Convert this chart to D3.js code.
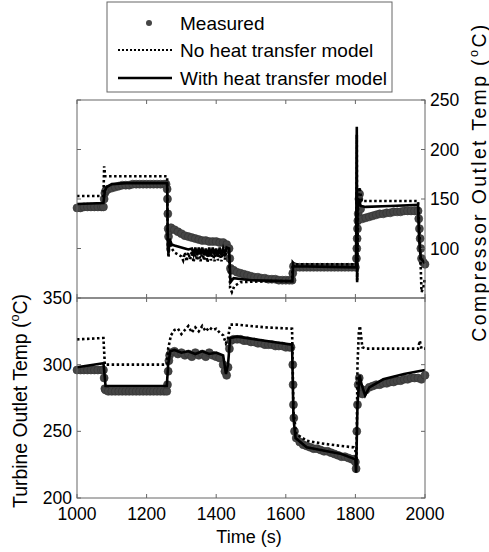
<!DOCTYPE html>
<html lang="en">
<head>
<meta charset="UTF-8" />
<title>Compressor / turbine outlet temperature</title>
<script src="https://cdnjs.cloudflare.com/ajax/libs/d3/7.8.5/d3.min.js"></script>
<style>
  body { margin: 0; background: #fff; }
  svg text { font-family: "Liberation Sans", Arial, sans-serif; fill: #000; }
</style>
</head>
<body>
<div id="chart"></div>
<script>
// ---- data: [time (s), temperature (degC)] ----
const compMeasured = [
  [1000,141],[1010,141],[1020,142],[1030,142],[1040,142],[1050,142],[1060,142],[1070,142],[1076,142],
  [1078,150],[1080,156],[1082,158],[1085,159],[1090,160],[1100,161],[1110,162],[1120,163],[1130,164],
  [1140,164],[1150,164],[1160,165],[1170,165],[1180,165],[1190,165],[1200,165],[1210,165],[1220,165],
  [1230,165],[1240,165],[1250,165],[1256,165],[1259,160],[1260,150],[1261,135],[1262,120],[1263,112],
  [1265,118],[1270,121],[1280,119],[1290,117],[1300,115],[1310,113],[1320,112],[1330,111],[1340,110],
  [1350,109],[1360,108],[1370,108],[1380,107],[1390,107],[1400,107],[1410,106],[1420,106],[1430,104],
  [1437,100],[1439,90],[1441,80],[1443,78],[1450,78],[1460,76],[1470,75],[1480,74],[1490,73],[1500,72],
  [1510,71],[1520,71],[1530,70],[1540,70],[1550,69],[1560,69],[1570,69],[1580,68],[1590,68],[1600,68],
  [1610,68],[1618,68],[1620,75],[1622,82],[1630,81],[1640,81],[1650,81],[1660,81],[1670,81],[1680,81],
  [1690,81],[1700,81],[1710,81],[1720,81],[1730,81],[1740,81],[1750,81],[1760,81],[1770,81],[1780,81],
  [1790,81],[1800,81],[1803,90],[1804,100],[1805,110],[1806,120],[1807,128],[1808,135],[1810,150],
  [1812,155],[1815,140],[1820,130],[1830,131],[1840,132],[1850,133],[1860,134],[1870,135],[1880,135],
  [1890,136],[1900,136],[1910,137],[1920,137],[1930,137],[1940,138],[1950,138],[1960,138],[1970,138],
  [1980,138],[1982,130],[1984,120],[1986,110],[1988,100],[1990,90],[1995,86],[2000,84]
];
const compNoHT = [
  [1000,153],[1076,153],[1078,183],[1081,173],[1259,173],[1261,100],[1263,91],[1266,108],[1272,100],
  [1280,96],[1290,94],[1300,92],[1305,88],[1310,96],[1315,87],[1320,96],[1325,89],[1330,97],[1335,86],
  [1340,97],[1345,88],[1350,98],[1355,87],[1360,97],[1365,88],[1370,97],[1375,86],[1380,98],[1385,88],
  [1390,97],[1395,87],[1400,98],[1405,88],[1410,97],[1415,87],[1420,98],[1425,89],[1430,97],[1437,96],
  [1440,60],[1445,56],[1452,62],[1470,66],[1550,67],[1618,67],[1620,86],[1625,84],[1802,84],[1804,215],
  [1805,68],[1808,150],[1812,162],[1818,148],[1980,148],[1985,110],[1990,56],[1995,60],[2000,70]
];
const compWithHT = [
  [1000,145],[1076,146],[1080,158],[1085,162],[1100,165],[1140,166],[1259,166],[1261,100],[1263,95],
  [1266,110],[1272,104],[1280,103],[1290,102],[1300,101],[1310,100],[1320,99],[1330,100],[1335,94],
  [1340,101],[1345,93],[1350,101],[1355,94],[1360,101],[1365,93],[1370,100],[1375,92],[1380,101],
  [1385,93],[1390,101],[1395,94],[1400,100],[1405,92],[1410,101],[1415,93],[1420,100],[1425,94],
  [1430,101],[1437,100],[1441,66],[1450,70],[1500,68],[1600,67],[1619,67],[1621,83],[1625,82],
  [1802,81],[1804,223],[1805,66],[1806,140],[1810,150],[1815,143],[1830,142],[1900,143],[1980,144],
  [1983,110],[1988,90],[2000,85]
];

const turbMeasured = [
  [1000,296],[1010,296],[1020,296],[1030,296],[1040,296],[1050,296],[1060,296],[1070,296],[1076,296],
  [1078,290],[1080,282],[1082,281],[1090,280],[1100,280],[1110,280],[1120,280],[1130,280],[1140,280],
  [1150,280],[1160,280],[1170,280],[1180,280],[1190,280],[1200,280],[1210,280],[1220,280],[1230,280],
  [1240,280],[1250,280],[1258,280],[1260,285],[1262,295],[1264,303],[1266,307],[1270,309],[1280,310],
  [1290,308],[1300,309],[1310,307],[1320,308],[1330,306],[1340,309],[1350,307],[1360,308],[1370,306],
  [1380,309],[1390,307],[1400,306],[1410,305],[1420,300],[1425,295],[1430,292],[1434,298],[1438,312],
  [1442,318],[1450,319],[1460,319],[1470,319],[1480,318],[1490,318],[1500,317],[1510,317],[1520,316],
  [1530,316],[1540,315],[1550,315],[1560,315],[1570,314],[1580,314],[1590,314],[1600,313],[1610,313],
  [1615,313],[1620,300],[1621,285],[1622,270],[1623,260],[1625,250],[1630,245],[1640,242],[1650,240],
  [1660,239],[1670,238],[1680,237],[1690,237],[1700,236],[1710,235],[1720,235],[1730,234],[1740,233],
  [1750,232],[1760,231],[1770,231],[1780,230],[1790,229],[1795,229],[1800,227],[1802,222],[1804,250],
  [1806,270],[1808,285],[1811,290],[1815,282],[1820,278],[1830,281],[1840,283],[1850,284],[1860,285],
  [1870,285],[1880,286],[1890,286],[1900,287],[1910,287],[1920,288],[1930,288],[1940,289],[1950,289],
  [1960,290],[1970,290],[1980,290],[1990,289],[2000,292]
];
const turbNoHT = [
  [1000,319],[1076,320],[1080,300],[1082,300],[1258,300],[1262,312],[1270,322],[1280,326],[1290,327],
  [1300,323],[1310,326],[1320,329],[1330,324],[1340,328],[1350,325],[1360,329],[1370,325],[1380,328],
  [1390,326],[1400,327],[1410,324],[1420,322],[1428,316],[1434,320],[1440,330],[1460,330],[1540,328],
  [1618,327],[1622,265],[1630,248],[1660,243],[1700,241],[1760,239],[1795,238],[1800,236],[1803,225],
  [1806,300],[1810,325],[1813,329],[1820,313],[1830,312],[1980,312],[1985,318],[1990,312],[2000,312]
];
const turbWithHT = [
  [1000,298],[1076,301],[1080,290],[1082,284],[1258,284],[1262,300],[1268,310],[1280,311],[1300,309],
  [1320,310],[1340,308],[1360,310],[1380,308],[1400,309],[1420,307],[1428,293],[1434,300],[1440,320],
  [1460,321],[1540,318],[1618,315],[1622,260],[1628,245],[1660,238],[1700,236],[1760,233],[1800,229],
  [1802,219],[1806,270],[1812,292],[1818,285],[1828,277],[1840,283],[1880,289],[1940,293],[2000,296]
];

const timeTicks = [1000, 1200, 1400, 1600, 1800, 2000];
const compTicks = [100, 150, 200, 250];
const turbTicks = [200, 250, 300, 350];

const legendLabels = ["Measured", "No heat transfer model", "With heat transfer model"];

// ---- layout ----
const width = 489, height = 552;
const svg = d3.select("#chart").append("svg")
  .attr("width", width).attr("height", height);

const x = d3.scaleLinear().domain([1000, 2000]).range([77, 425]);
const yTop = d3.scaleLinear().domain([50, 250]).range([298, 100]);
const yBot = d3.scaleLinear().domain([200, 350]).range([498, 298]);

const axisColor = "#666";
const dotColor = "#454545";

function panel(y, measured, noHT, withHT) {
  const g = svg.append("g");
  g.selectAll("circle").data(measured).join("circle")
    .attr("cx", d => x(d[0])).attr("cy", d => y(d[1])).attr("r", 4)
    .attr("fill", dotColor).attr("stroke", "#333").attr("stroke-width", 0.6);
  const line = d3.line().x(d => x(d[0])).y(d => y(d[1]));
  g.append("path").datum(noHT).attr("d", line)
    .attr("fill", "none").attr("stroke", "#000").attr("stroke-width", 2.6)
    .attr("stroke-dasharray", "2.5,2.5");
  g.append("path").datum(withHT).attr("d", line)
    .attr("fill", "none").attr("stroke", "#000").attr("stroke-width", 2.6);
}

panel(yTop, compMeasured, compNoHT, compWithHT);
panel(yBot, turbMeasured, turbNoHT, turbWithHT);

// frames and ticks
function frame(y) {
  const [y0, y1] = y.range();
  const g = svg.append("g");
  g.append("rect").attr("x", 77).attr("y", y1).attr("width", 348).attr("height", y0 - y1)
    .attr("fill", "none").attr("stroke", axisColor).attr("stroke-width", 1);
  return g;
}
function tickMarks(g, y, yticks) {
  const [y0, y1] = y.range();
  const len = 4;
  timeTicks.forEach(t => {
    g.append("line").attr("x1", x(t)).attr("x2", x(t)).attr("y1", y0).attr("y2", y0 - len)
      .attr("stroke", axisColor);
    g.append("line").attr("x1", x(t)).attr("x2", x(t)).attr("y1", y1).attr("y2", y1 + len)
      .attr("stroke", axisColor);
  });
  yticks.forEach(v => {
    g.append("line").attr("x1", 77).attr("x2", 77 + len).attr("y1", y(v)).attr("y2", y(v))
      .attr("stroke", axisColor);
    g.append("line").attr("x1", 425).attr("x2", 425 - len).attr("y1", y(v)).attr("y2", y(v))
      .attr("stroke", axisColor);
  });
}
const fTop = frame(yTop);
tickMarks(fTop, yTop, compTicks);
const fBot = frame(yBot);
tickMarks(fBot, yBot, turbTicks);

// tick labels
svg.append("g").selectAll("text").data(timeTicks).join("text")
  .attr("x", d => x(d)).attr("y", 520).attr("text-anchor", "middle")
  .attr("font-size", 17.5).text(d => d);
svg.append("g").selectAll("text").data(turbTicks).join("text")
  .attr("x", 72).attr("y", d => yBot(d) + 6).attr("text-anchor", "end")
  .attr("font-size", 17.5).text(d => d);
svg.append("g").selectAll("text").data(compTicks).join("text")
  .attr("x", 430).attr("y", d => yTop(d) + 6).attr("text-anchor", "start")
  .attr("font-size", 17.5).text(d => d);

// axis titles
svg.append("text").attr("x", 249).attr("y", 543).attr("text-anchor", "middle")
  .attr("font-size", 18).text("Time (s)");

function degLabel(txt, cx, cy, size, spacing) {
  const t = svg.append("text")
    .attr("transform", `translate(${cx},${cy}) rotate(-90)`)
    .attr("text-anchor", "middle").attr("font-size", size)
    .attr("letter-spacing", spacing);
  t.append("tspan").text(txt + " (");
  t.append("tspan").attr("font-size", size * 0.65).attr("dy", -size * 0.4).text("o");
  t.append("tspan").attr("dy", size * 0.4).text("C)");
}
degLabel("Turbine Outlet Temp", 27, 401, 19.4, 0);
degLabel("Compressor Outlet Temp", 486, 182, 19.4, 2.4);

// legend
const lg = svg.append("g");
lg.append("rect").attr("x", 107).attr("y", 2).attr("width", 285).attr("height", 90)
  .attr("fill", "#fff").attr("stroke", axisColor);
const rowY = [23, 50, 78];
lg.append("circle").attr("cx", 149).attr("cy", rowY[0]).attr("r", 3).attr("fill", dotColor);
lg.append("line").attr("x1", 118).attr("x2", 172).attr("y1", rowY[1]).attr("y2", rowY[1])
  .attr("stroke", "#000").attr("stroke-width", 2.2).attr("stroke-dasharray", "2,2");
lg.append("line").attr("x1", 118).attr("x2", 172).attr("y1", rowY[2]).attr("y2", rowY[2])
  .attr("stroke", "#000").attr("stroke-width", 2.6);
lg.selectAll("text.lab").data(legendLabels).join("text").attr("class", "lab")
  .attr("x", 180).attr("y", (d, i) => rowY[i] + 6.5).attr("font-size", 19).text(d => d);
</script>
</body>
</html>
